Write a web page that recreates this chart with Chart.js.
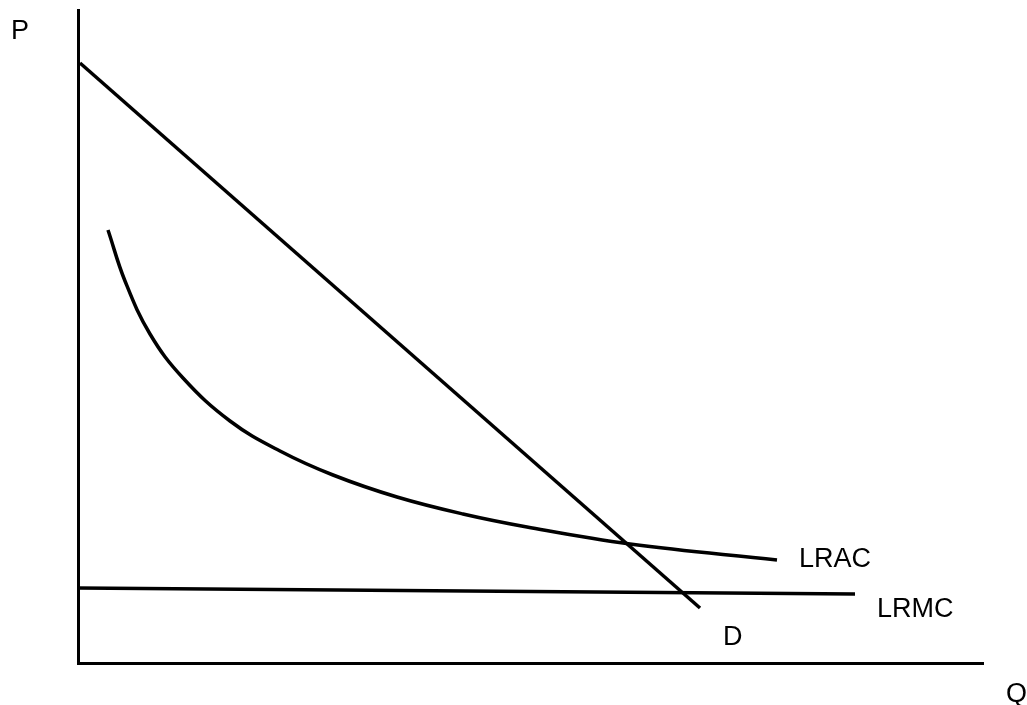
<!DOCTYPE html>
<html>
<head>
<meta charset="utf-8">
<script src="https://cdn.jsdelivr.net/npm/chart.js@4/dist/chart.umd.min.js"></script>
<style>
html,body{margin:0;padding:0;background:#fff;}
#wrap{width:1027px;height:705px;position:relative;}
</style>
</head>
<body>
<div id="wrap"><canvas id="c" width="1027" height="705"></canvas></div>
<script>
// Quantity (Q) and price (P) values, in arbitrary units
const demandQ = [2, 622];
const demandP = [600, 55];
const lracQ = [30, 47, 72, 105, 152, 202, 255, 319, 385, 449, 552, 699];
const lracP = [433, 382, 329, 285, 242, 212, 188, 166, 149, 136, 119, 103];
const lrmcQ = [0, 777];
const lrmcP = [75, 69];
const seriesNames = ['D', 'LRAC', 'LRMC'];
const axisNames = ['P', 'Q'];
const qMax = 905, pMax = 653;

const toPts = (xs, ys) => xs.map((x, i) => ({x: x, y: ys[i]}));

const labelPlugin = {
  id: 'labels',
  afterDraw(chart) {
    const ctx = chart.ctx;
    const a = chart.chartArea;
    ctx.save();
    ctx.fillStyle = '#000';
    ctx.font = '27px "Liberation Sans", Arial, sans-serif';
    ctx.textBaseline = 'alphabetic';
    ctx.textAlign = 'left';
    const xs = chart.scales.x, ys = chart.scales.y;
    const ends = [
      [demandQ[demandQ.length - 1], demandP[demandP.length - 1], 23, 37],
      [lracQ[lracQ.length - 1], lracP[lracP.length - 1], 22, 7],
      [lrmcQ[lrmcQ.length - 1], lrmcP[lrmcP.length - 1], 22, 23]
    ];
    ends.forEach((e, i) => {
      ctx.fillText(seriesNames[i], xs.getPixelForValue(e[0]) + e[2], ys.getPixelForValue(e[1]) + e[3]);
    });
    ctx.fillText(axisNames[0], a.left - 67, a.top + 29);
    ctx.fillText(axisNames[1], a.right + 23, a.bottom + 39);
    ctx.restore();
  }
};

const lineStyle = {
  borderColor: '#000',
  borderWidth: 3.5,
  pointRadius: 0,
  showLine: true,
  fill: false
};

new Chart(document.getElementById('c'), {
  type: 'scatter',
  data: {
    datasets: [
      Object.assign({label: seriesNames[0], data: toPts(demandQ, demandP)}, lineStyle),
      Object.assign({label: seriesNames[1], data: toPts(lracQ, lracP), tension: 0.4}, lineStyle),
      Object.assign({label: seriesNames[2], data: toPts(lrmcQ, lrmcP)}, lineStyle)
    ]
  },
  options: {
    responsive: false,
    animation: false,
    layout: {padding: {left: 78, top: 10, right: 44, bottom: 42}},
    plugins: {legend: {display: false}, tooltip: {enabled: false}},
    scales: {
      x: {
        type: 'linear', min: 0, max: qMax,
        grid: {display: false, drawTicks: false},
        ticks: {display: false},
        border: {display: true, color: '#000', width: 3}
      },
      y: {
        type: 'linear', min: 0, max: pMax,
        grid: {display: false, drawTicks: false},
        ticks: {display: false},
        border: {display: true, color: '#000', width: 3}
      }
    }
  },
  plugins: [labelPlugin]
});
</script>
</body>
</html>
